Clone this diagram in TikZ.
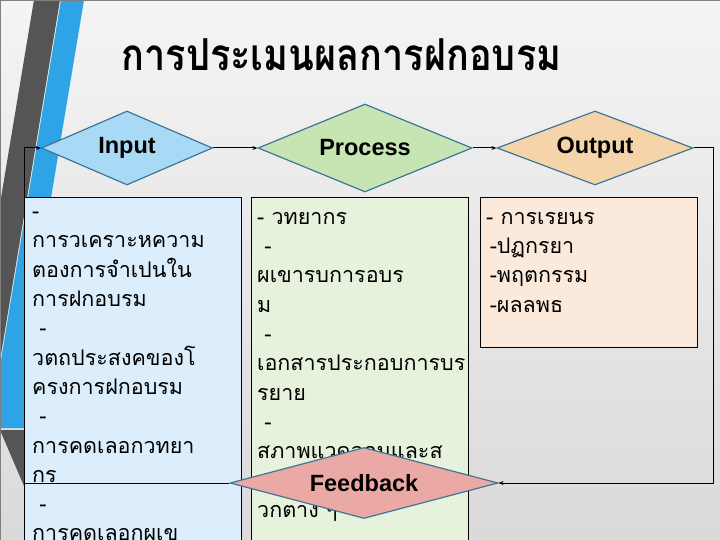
\documentclass[tikz,border=0pt]{standalone}
\usepackage{fontspec}
\setmainfont{Liberation Sans}
\newfontfamily\thaifont[Script=Thai]{Loma}
\newfontfamily\titlefont[Script=Thai,FakeStretch=0.86]{Loma}
\usetikzlibrary{arrows.meta,shapes.geometric}

\definecolor{bgtop}{HTML}{F4F4F4}
\definecolor{bgbot}{HTML}{DADADA}
\definecolor{stripegray}{HTML}{555555}
\definecolor{stripeblue}{HTML}{2EA3E6}
\definecolor{diaedge}{HTML}{3F7599}
\definecolor{inputfill}{HTML}{A9DAF5}
\definecolor{procfill}{HTML}{C6E5B3}
\definecolor{outfill}{HTML}{F5D4A9}
\definecolor{fbfill}{HTML}{EBA9A5}
\definecolor{inboxfill}{HTML}{DCEEFB}
\definecolor{procboxfill}{HTML}{E6F2DC}
\definecolor{outboxfill}{HTML}{FBEADB}

\tikzset{
  stage/.style={diamond, draw=diaedge, line width=1.2pt, inner sep=0pt, aspect=4,
    font=\bfseries\fontsize{23.5}{25}\selectfont},
  listbox/.style={draw=black, line width=0.6pt, anchor=north west, inner sep=0pt},
  listtext/.style={anchor=north west, align=left, inner sep=0pt,
    font=\thaifont\fontsize{21.5}{29.3}\selectfont},
  link/.style={line width=1pt, -{Stealth[length=5pt,width=4pt]}},
}

\begin{document}
\begin{tikzpicture}[x=1pt,y=-1pt]
\useasboundingbox (0,0) rectangle (720,540);

% slide background and side stripes
\begin{scope}
  \clip (0,0) rectangle (720,540);
  \shade[top color=bgtop, bottom color=bgbot] (0,0) rectangle (720,540);
  \fill[stripegray] (34,0) -- (60,0) -- (0,360) -- (0,204) -- cycle;
  \fill[stripeblue] (61,0) -- (84,0) -- (24,360) -- (24,428) -- (0,428) -- (0,366) -- cycle;
  \fill[stripegray] (0,430) -- (24,430) -- (24,486) -- cycle;
\end{scope}

% title
\node[anchor=west, font=\titlefont\bfseries\fontsize{44}{48}\selectfont] (title) at (118,55) {การประเมนผลการฝกอบรม};

% stages
\node[stage, fill=inputfill, minimum width=171pt, minimum height=74pt] (input) at (127,148) {Input};
\node[stage, fill=procfill, minimum width=214pt, minimum height=88pt] (process) at (365,148) {Process};
\node[stage, fill=outfill, minimum width=196pt, minimum height=74pt] (output) at (595,148) {Output};

% boxes under the stages
\node[listbox, fill=inboxfill, minimum width=217pt, minimum height=360pt] (inbox) at (24,197) {};
\node[listbox, fill=procboxfill, minimum width=217pt, minimum height=360pt] (procbox) at (251,197) {};
\node[listbox, fill=outboxfill, minimum width=217pt, minimum height=150pt] (outbox) at (480,197) {};

\node[listtext] (intext) at (32,212) {-\\การวเคราะหความ\\ตองการจำเปนใน\\การฝกอบรม\\ \ -\\วตถประสงคของโ\\ครงการฝกอบรม\\ \ -\\การคดเลอกวทยา\\กร\\ \ -\\การคดเลอกผเข};
\node[listtext] (proctext) at (257,212) {- วทยากร\\ \ -\\ผเขารบการอบร\\ม\\ \ -\\เอกสารประกอบการบร\\รยาย\\ \ -\\สภาพแวดลอมและส\\สงอำนวยความสะด\\วกตาง ๆ};
\node[listtext] (outtext) at (486,212) {- การเรยนร\\ \,-ปฏกรยา\\ \,-พฤตกรรม\\ \,-ผลลพธ};

% feedback
\node[stage, fill=fbfill, minimum width=268pt, minimum height=71pt] (feedback) at (364,483) {Feedback};

% connectors
\coordinate (rtop) at (713,148);
\coordinate (rbot) at (713,483);
\coordinate (lbot) at (24,483);
\coordinate (ltop) at (24,148);
\draw[link] (input.east) -- (process.west);
\draw[link] (process.east) -- (output.west);
\draw[link] (output.east) -- (rtop) -- (rbot) -- (feedback.east);
\draw[link] (feedback.west) -- (lbot) -- (ltop) -- (input.west);

\draw[gray, line width=0.6pt] (0,0) rectangle (720,540);
\end{tikzpicture}
\end{document}
